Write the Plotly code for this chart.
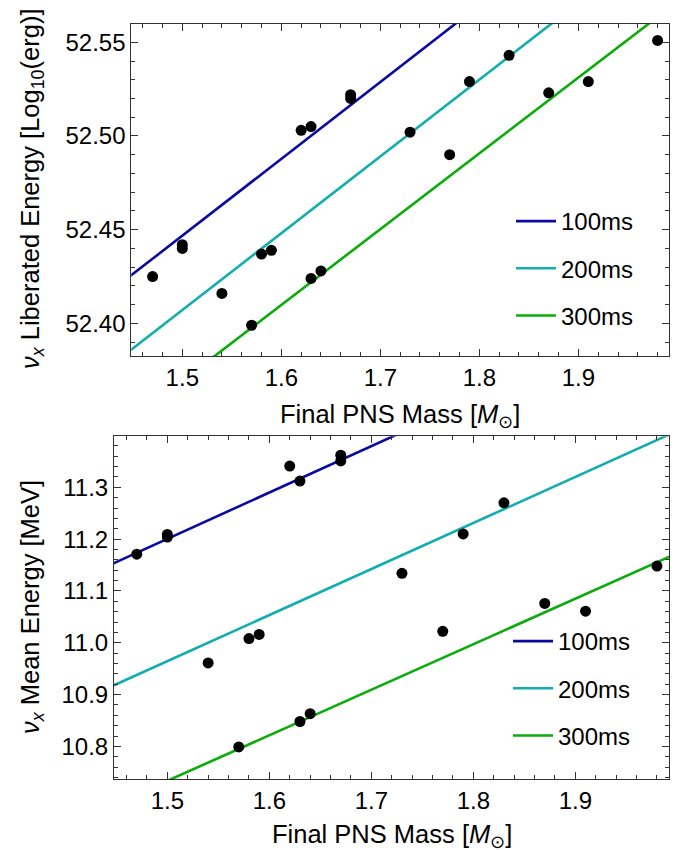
import plotly.graph_objects as go

# ---- data ----
mass = [1.47, 1.50, 1.50, 1.54, 1.57, 1.58, 1.59, 1.62, 1.63, 1.63,
        1.64, 1.67, 1.67, 1.73, 1.77, 1.79, 1.83, 1.87, 1.91, 1.98]
lib_energy = [52.425, 52.442, 52.440, 52.416, 52.399, 52.437, 52.439, 52.503, 52.505, 52.424,
              52.428, 52.522, 52.520, 52.502, 52.490, 52.529, 52.543, 52.523, 52.529, 52.551]
mean_energy = [11.171, 11.209, 11.204, 10.961, 10.799, 11.008, 11.016, 11.341, 11.312, 10.848,
               10.863, 11.362, 11.351, 11.134, 11.022, 11.210, 11.270, 11.076, 11.061, 11.148]

fit_x = [1.44, 2.00]
lib_fit_100 = [52.4222, 52.6518]
lib_fit_200 = [52.3825, 52.6121]
lib_fit_300 = [52.3451, 52.5716]
mean_fit_100 = [11.1468, 11.6480]
mean_fit_200 = [10.9112, 11.4090]
mean_fit_300 = [10.6808, 11.1730]

fit_names = ["100ms", "200ms", "300ms"]
fit_colors = ["#0a0aa0", "#12adad", "#0aac0a"]

x_ticks = [1.5, 1.6, 1.7, 1.8, 1.9]
lib_ticks = [52.40, 52.45, 52.50, 52.55]
mean_ticks = [10.8, 10.9, 11.0, 11.1, 11.2, 11.3]

W, H = 681, 850
FONT = "Liberation Sans"
FS = 24
TFS = 25.5

fig = go.Figure()

for i, ys in enumerate([lib_fit_100, lib_fit_200, lib_fit_300]):
    fig.add_trace(go.Scatter(x=fit_x, y=ys, mode="lines", name=fit_names[i],
                             line=dict(color=fit_colors[i], width=2.6),
                             xaxis="x", yaxis="y", legend="legend",
                             legendgroup="a%d" % i))
fig.add_trace(go.Scatter(x=mass, y=lib_energy, mode="markers", showlegend=False,
                         marker=dict(color="black", size=11), xaxis="x", yaxis="y"))

for i, ys in enumerate([mean_fit_100, mean_fit_200, mean_fit_300]):
    fig.add_trace(go.Scatter(x=fit_x, y=ys, mode="lines", name=fit_names[i],
                             line=dict(color=fit_colors[i], width=2.6),
                             xaxis="x2", yaxis="y2", legend="legend2",
                             legendgroup="b%d" % i))
fig.add_trace(go.Scatter(x=mass, y=mean_energy, mode="markers", showlegend=False,
                         marker=dict(color="black", size=11), xaxis="x2", yaxis="y2"))


def px_x(p):
    return p / W


def px_y(p):
    return 1 - p / H


axis_common = dict(showline=True, linecolor="#333", linewidth=1, mirror="allticks",
                   ticks="inside", ticklen=7, tickcolor="#333", tickwidth=1,
                   showgrid=False, zeroline=False,
                   tickfont=dict(family=FONT, size=FS, color="black"))
minor_common = dict(ticks="inside", ticklen=4, tickcolor="#333", tickwidth=1, showgrid=False)

legend_common = dict(font=dict(family=FONT, size=FS, color="black"),
                     bgcolor="rgba(0,0,0,0)", xanchor="left", yanchor="top",
                     tracegroupgap=13, itemwidth=40)

fig.update_layout(
    width=W, height=H,
    margin=dict(l=0, r=0, t=0, b=0),
    paper_bgcolor="white", plot_bgcolor="white",
    font=dict(family=FONT, size=FS, color="black"),
    xaxis=dict(domain=[px_x(123.3), px_x(661)], range=[1.4485, 1.9915], anchor="y",
               tickvals=x_ticks, tickformat=".1f",
               minor=dict(dtick=0.02, tick0=1.5, **minor_common), **axis_common),
    yaxis=dict(domain=[px_y(348), px_y(15.7)], range=[52.3826, 52.5599], anchor="x",
               tickvals=lib_ticks, tickformat=".2f",
               minor=dict(dtick=0.01, tick0=52.40, **minor_common), **axis_common),
    xaxis2=dict(domain=[px_x(106), px_x(661)], range=[1.4477, 1.9918], anchor="y2",
                tickvals=x_ticks, tickformat=".1f",
                minor=dict(dtick=0.02, tick0=1.5, **minor_common), **axis_common),
    yaxis2=dict(domain=[px_y(771), px_y(428.3)], range=[10.737, 11.3985], anchor="x2",
                tickvals=mean_ticks, tickformat=".1f",
                minor=dict(dtick=0.02, tick0=10.8, **minor_common), **axis_common),
    legend=dict(x=px_x(503), y=px_y(191), **legend_common),
    legend2=dict(x=px_x(500), y=px_y(611), **legend_common),
    annotations=[
        dict(text="Final PNS Mass [<i>M</i><sub>⊙</sub>]", xref="paper", yref="paper",
             x=px_x(392), y=px_y(407.5), xanchor="center", yanchor="middle",
             showarrow=False, font=dict(family=FONT, size=TFS, color="black")),
        dict(text="Final PNS Mass [<i>M</i><sub>⊙</sub>]", xref="paper", yref="paper",
             x=px_x(383.5), y=px_y(827.5), xanchor="center", yanchor="middle",
             showarrow=False, font=dict(family=FONT, size=TFS, color="black")),
        dict(text="<i>ν</i><sub><i>x</i></sub> Liberated Energy [Log<sub>10</sub>(erg)]",
             xref="paper", yref="paper", textangle=-90,
             x=px_x(24), y=px_y(181), xanchor="center", yanchor="middle",
             showarrow=False, font=dict(family=FONT, size=TFS, color="black")),
        dict(text="<i>ν</i><sub><i>x</i></sub> Mean Energy [MeV]",
             xref="paper", yref="paper", textangle=-90,
             x=px_x(24), y=px_y(599), xanchor="center", yanchor="middle",
             showarrow=False, font=dict(family=FONT, size=TFS, color="black")),
    ],
)

fig.write_html("out.html")
